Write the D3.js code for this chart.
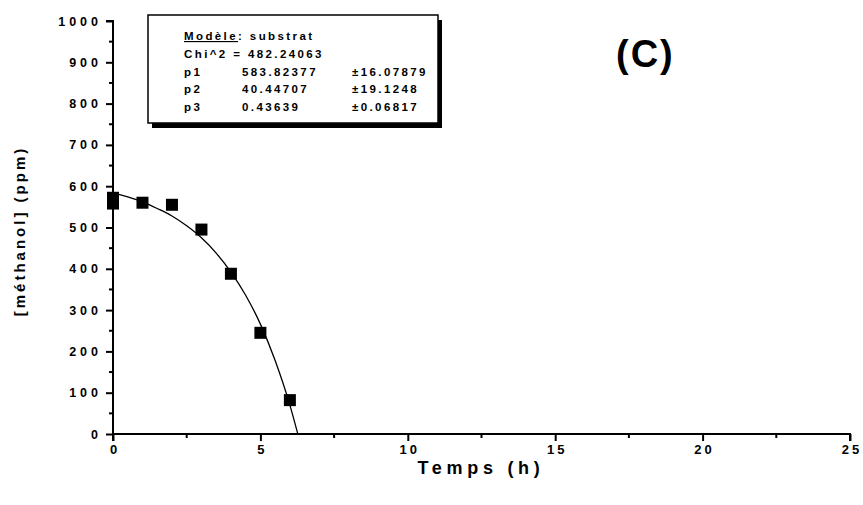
<!DOCTYPE html>
<html>
<head>
<meta charset="utf-8">
<script src="https://cdn.jsdelivr.net/npm/d3@7"></script>
<style>
  body { margin: 0; background: #fff; }
  text { font-family: "Liberation Sans", Arial, sans-serif; font-weight: bold; fill: #000; }
</style>
</head>
<body>
<div id="chart"></div>
<script>
// measured points
var times = [0, 0, 1, 2, 3, 4, 5, 6];
var methanol = [572, 558, 560, 555, 495, 388, 245, 82];

// fitted curve
var curveT = [0, 0.5, 1, 1.5, 2, 2.5, 3, 3.5, 4, 4.5, 5, 5.5, 6, 6.27];
var curveV = [584, 574, 562, 546, 528, 504, 475, 438, 392, 336, 266, 178, 70, 0];

var xTicks = [0, 5, 10, 15, 20, 25];
var yTicks = [0, 100, 200, 300, 400, 500, 600, 700, 800, 900, 1000];

var legendRows = [
    ["p1", "583.82377", "\u00b116.07879"],
    ["p2", "40.44707", "\u00b119.1248"],
    ["p3", "0.43639", "\u00b10.06817"]
];

var W = 863, H = 505;
var margin = { left: 113, right: 13, top: 21, bottom: 71 };

var svg = d3.select("#chart")
    .append("svg")
        .attr("width", W)
        .attr("height", H);

var x = d3.scaleLinear()
    .domain([0, 25])
    .range([margin.left, W - margin.right]);

var y = d3.scaleLinear()
    .domain([0, 1000])
    .range([H - margin.bottom, margin.top]);

// axes
var xAxis = d3.axisBottom(x).tickValues(xTicks).tickSize(7).tickPadding(4).tickFormat(d3.format("d"));
var yAxis = d3.axisLeft(y).tickValues(yTicks).tickSize(7).tickPadding(6).tickFormat(d3.format("d"));

var gx = svg.append("g")
    .attr("transform", "translate(0," + y(0) + ")")
    .call(xAxis);
var gy = svg.append("g")
    .attr("transform", "translate(" + x(0) + ",0)")
    .call(yAxis);

// minor ticks
gx.selectAll(".minor")
    .data(d3.range(2.5, 25, 5))
    .enter().append("line")
        .attr("x1", function(d){ return x(d); })
        .attr("x2", function(d){ return x(d); })
        .attr("y1", 0).attr("y2", 4);
gy.selectAll(".minor")
    .data(d3.range(50, 1000, 100))
    .enter().append("line")
        .attr("y1", function(d){ return y(d); })
        .attr("y2", function(d){ return y(d); })
        .attr("x1", 0).attr("x2", -4);

[gx, gy].forEach(function(g){
    g.select(".domain").attr("stroke", "#000").attr("stroke-width", 2);
    g.selectAll("line").attr("stroke", "#000").attr("stroke-width", 2);
});
gx.select(".domain").attr("d", "M" + (x(0) - 1) + ",0H" + x(25) + "V7");
gy.select(".domain").attr("d", "M-7," + y(1000) + "H0V" + (y(0) + 7));
gx.selectAll("text").style("font-size", "13px").attr("letter-spacing", "3px").attr("dx", "1.5px");
gy.selectAll("text").style("font-size", "12.5px").attr("letter-spacing", "4px").attr("dx", "2px");

// fitted curve
var line = d3.line()
    .x(function(d, i){ return x(curveT[i]); })
    .y(function(d){ return y(d); })
    .curve(d3.curveMonotoneX);

svg.append("path")
    .datum(curveV)
    .attr("fill", "none")
    .attr("stroke", "#000")
    .attr("stroke-width", 1.3)
    .attr("d", line);

// points
var s = 12;
svg.selectAll(".pt")
    .data(methanol)
    .enter().append("rect")
        .attr("class", "pt")
        .attr("x", function(d, i){ return x(times[i]) - s / 2; })
        .attr("y", function(d){ return y(d) - s / 2; })
        .attr("width", s)
        .attr("height", s)
        .attr("fill", "#000");

// axis titles
svg.append("text")
    .attr("x", 481)
    .attr("y", 474)
    .attr("text-anchor", "middle")
    .attr("letter-spacing", "4.7px")
    .style("font-size", "18px")
    .text("Temps (h)");

svg.append("text")
    .attr("transform", "translate(25,231) rotate(-90)")
    .attr("text-anchor", "middle")
    .attr("letter-spacing", "3px")
    .style("font-size", "15px")
    .text("[méthanol] (ppm)");

// panel label
svg.append("text")
    .attr("x", 616)
    .attr("y", 67)
    .attr("letter-spacing", "2px")
    .style("font-size", "38px")
    .text("(C)");

// legend box
var lg = svg.append("g");
lg.append("rect")
    .attr("x", 152).attr("y", 20)
    .attr("width", 290).attr("height", 108)
    .attr("fill", "#000");
lg.append("rect")
    .attr("x", 148).attr("y", 15)
    .attr("width", 290).attr("height", 108)
    .attr("fill", "#fff")
    .attr("stroke", "#000")
    .attr("stroke-width", 1.5);

var fs = "11.5px", ls = "2.4px";
var t0 = lg.append("text")
    .attr("x", 184).attr("y", 40)
    .attr("letter-spacing", ls)
    .style("font-size", fs);
t0.append("tspan").attr("text-decoration", "underline").text("Modèle");
t0.append("tspan").text(": substrat");

lg.append("text")
    .attr("x", 184).attr("y", 58)
    .attr("letter-spacing", ls)
    .style("font-size", fs)
    .text("Chi^2 = 482.24063");

var colX = [184, 242, 352];
legendRows.forEach(function(row, r){
    row.forEach(function(cell, c){
        lg.append("text")
            .attr("x", colX[c])
            .attr("y", 75.5 + r * 17.7)
            .attr("letter-spacing", ls)
            .style("font-size", fs)
            .text(cell);
    });
});
</script>
</body>
</html>
